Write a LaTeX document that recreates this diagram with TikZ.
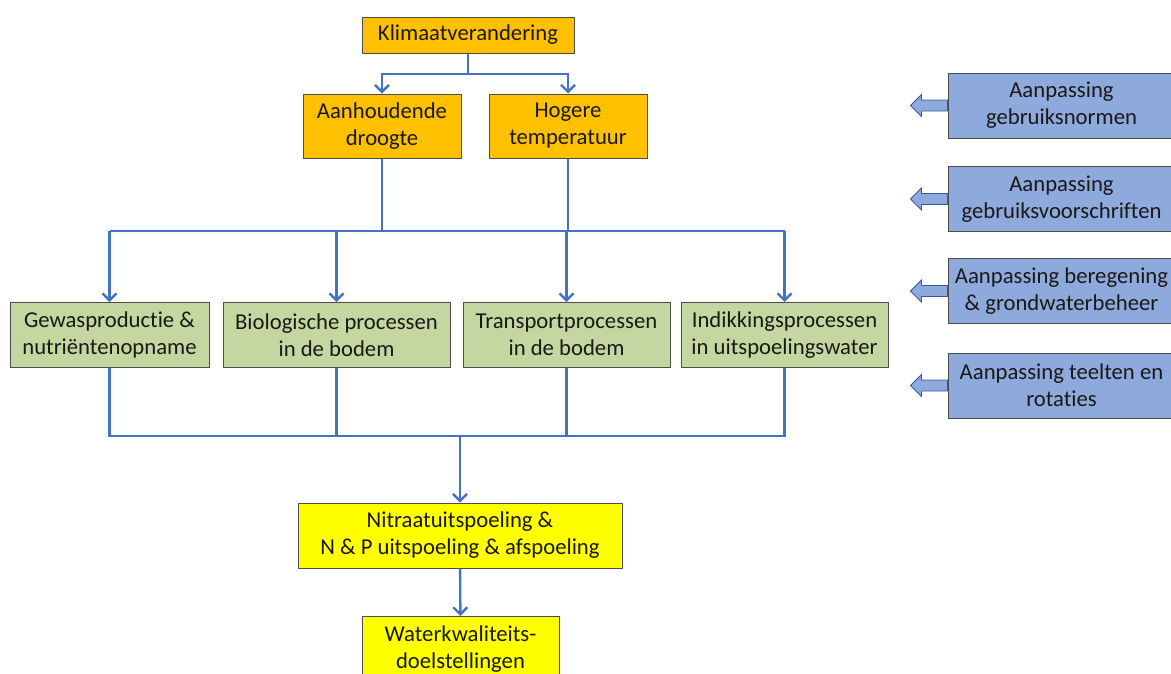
\documentclass[tikz,border=0pt]{standalone}
\usepackage{fontspec}
\setmainfont{Carlito}[Ligatures=NoCommon]
\usetikzlibrary{arrows.meta}
\definecolor{klimorange}{RGB}{255,192,0}
\definecolor{procgreen}{RGB}{196,215,160}
\definecolor{maatblue}{RGB}{142,169,219}
\definecolor{lijnblue}{RGB}{68,114,196}
\definecolor{nitrgeel}{RGB}{255,255,0}

\begin{document}
\begin{tikzpicture}[x=1pt, y=-1pt,
    box/.style={draw=black!70, line width=1pt, align=center, inner sep=0pt,
        text=black!90, font=\fontsize{22.7}{27}\selectfont},
    oorzaak/.style={box, fill=klimorange},
    proces/.style={box, fill=procgreen, minimum height=65},
    gevolg/.style={box, fill=nitrgeel, minimum height=65},
    maatregel/.style={box, fill=maatblue, minimum width=227, minimum height=65},
    lijn/.style={lijnblue, line width=2.4pt},
    pijl/.style={lijn, -{Straight Barb[length=7pt, width=14pt]}},
    blokpijl/.style={fill=maatblue, draw=lijnblue!80!black, line width=0.8pt}]

    % Background and size
    \fill[white] (0,0) rectangle (1171,673);
    \useasboundingbox (0,0) rectangle (1171,673);

    % Causes
    \node[oorzaak, minimum width=212, minimum height=36] (klimaat) at (468,35) {Klimaatverandering};
    \node[oorzaak, minimum width=158, minimum height=64] (droogte) at (382,126) {Aanhoudende\\droogte};
    \node[oorzaak, minimum width=158, minimum height=64] (temp) at (568,126) {Hogere\\temperatuur};

    % Processes
    \node[proces, minimum width=199] (gewas) at (109.5,335) {Gewasproductie \&\\nutriëntenopname};
    \node[proces, minimum width=227] (bio) at (336.5,335) {Biologische processen\\in de bodem};
    \node[proces, minimum width=207] (transport) at (566.5,335) {Transportprocessen\\in de bodem};
    \node[proces, minimum width=207] (indik) at (784.5,335) {Indikkingsprocessen\\in uitspoelingswater};

    % Effects
    \node[gevolg, minimum width=324] (nitraat) at (460,535.5) {Nitraatuitspoeling \&\\N \& P uitspoeling \& afspoeling};
    \node[gevolg, minimum width=197, anchor=north] (water) at (460.5,616) {Waterkwaliteits-\\doelstellingen};

    % Measures with block arrows
    \foreach \naam/\yy/\tekst in {normen/105.5/{Aanpassing\\gebruiksnormen},
        voorschr/199/{Aanpassing\\gebruiksvoorschriften},
        beregening/291/{Aanpassing beregening\\\& grondwaterbeheer},
        teelten/385.5/{Aanpassing teelten en\\rotaties}}
    {
        \node[maatregel] (\naam) at (1061.5,\yy) {\tekst};
        \filldraw[blokpijl] (\naam.west) ++(0,-5.5) -- ++(-26,0) -- ++(0,-5.5) -- ++(-11,11)
            -- ++(11,11) -- ++(0,-5.5) -- ++(26,0) -- cycle;
    }

    % Climate to causes
    \coordinate (splits) at (468,74);
    \draw[lijn] (klimaat) -- (splits);
    \draw[pijl] (splits) -| (droogte);
    \draw[pijl] (splits) -| (temp);

    % Causes to processes
    \coordinate (bovenbus) at (468,231);
    \draw[lijn] (gewas.north |- bovenbus) -- (indik.north |- bovenbus);
    \draw[lijn] (droogte) -- (droogte |- bovenbus);
    \draw[lijn] (temp) -- (temp |- bovenbus);
    \foreach \p in {gewas,bio,transport,indik}
        \draw[pijl] (\p |- bovenbus) -- (\p);

    % Processes to effects
    \coordinate (onderbus) at (460,436);
    \draw[lijn] (gewas) |- (onderbus) -| (indik);
    \draw[lijn] (bio) -- (bio |- onderbus);
    \draw[lijn] (transport) -- (transport |- onderbus);
    \draw[pijl] (onderbus) -- (nitraat);
    \draw[pijl] (nitraat) -- (water);
\end{tikzpicture}
\end{document}
